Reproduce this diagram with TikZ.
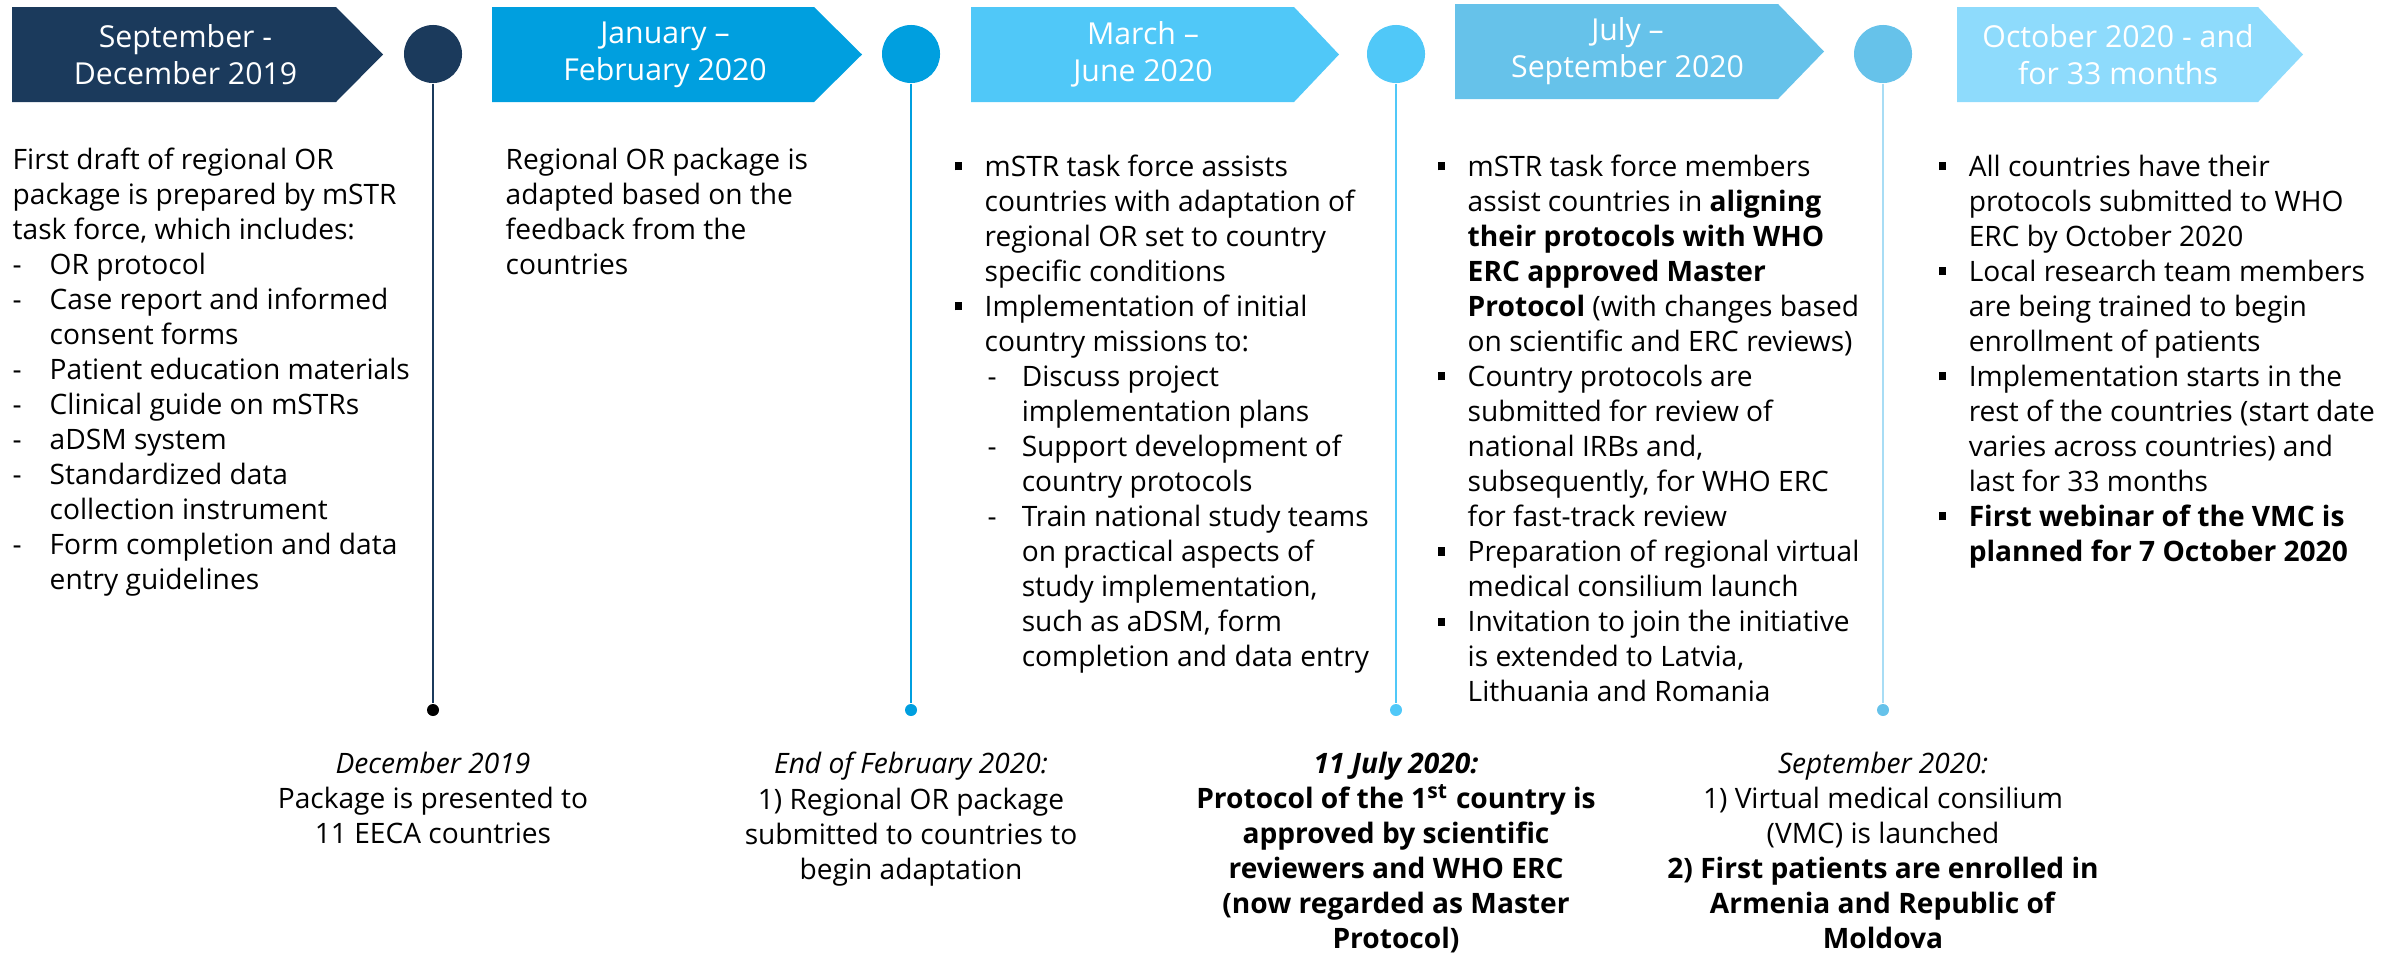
\documentclass[tikz,border=0pt]{standalone}
\usepackage{fontspec}
\setmainfont{Open Sans}
\usetikzlibrary{positioning}

\definecolor{navy}{HTML}{1B3A5C}
\definecolor{blueA}{HTML}{009FDF}
\definecolor{blueB}{HTML}{50C8F8}
\definecolor{blueC}{HTML}{66C2EA}
\definecolor{blueD}{HTML}{8EDBFC}
\definecolor{lineD}{HTML}{A8DDF5}

% list markers used in the text columns
\newcommand{\sq}{\makebox[0.3cm][l]{\rule[1.7pt]{2pt}{2.3pt}}}
\newcommand{\dsh}{\makebox[0.37cm][l]{-}}
\newcommand{\subdsh}{\hspace*{0.33cm}\makebox[0.34cm][l]{-}}
\newcommand{\ind}{\hspace*{0.3cm}}
\newcommand{\subind}{\hspace*{0.67cm}}

\begin{document}
\begin{tikzpicture}[
    x = 0.01cm, y = -0.01cm, % one unit per pixel, y downwards
    head/.style = {font=\fontsize{8.6}{10.5}\selectfont, text=white, align=center, inner sep=0pt},
    body/.style = {font=\fontsize{8}{9.96}\selectfont, align=left, anchor=north west, inner sep=0pt},
    note/.style = {font=\fontsize{8}{9.96}\selectfont, align=center, inner sep=0pt},
    milestone/.style = {circle, inner sep=0pt, minimum size=0.58cm},
    pin/.style = {circle, inner sep=0pt, minimum size=0.12cm},
    stem/.style = {line width=0.5pt}
    ]
    \useasboundingbox (0,0) rectangle (2389,954);

    % period banners
    \foreach \l/\s/\r/\t/\col/\txt/\n in {
        12/336/383/7/navy/{September -\\December 2019}/h1,
        492/814/862/7/blueA/{January --\\February 2020}/h2,
        971/1294/1339/7/blueB/{March --\\June 2020}/h3,
        1455/1778/1824/4/blueC/{July --\\September 2020}/h4,
        1957/2258/2303/7/blueD/{October 2020 - and\\for 33 months}/h5}
    {
        \fill[\col] (\l,\t) -- (\s,\t) -- (\r,\t+47.5) -- (\s,\t+95) -- (\l,\t+95) -- cycle;
        \node[head] (\n) at ({(\l+\r)/2-12},\t+47.5) {\txt};
    }

    % milestones and their pins
    \node[milestone, fill=navy] (c1) at (433,54) {};
    \node[milestone, fill=blueA] (c2) at (911,54) {};
    \node[milestone, fill=blueB] (c3) at (1396,54) {};
    \node[milestone, fill=blueC] (c4) at (1883,54) {};

    \node[pin, fill=black] (d1) at (433,710) {};
    \node[pin, fill=blueA] (d2) at (911,710) {};
    \node[pin, fill=blueB] (d3) at (1396,710) {};
    \node[pin, fill=blueC] (d4) at (1883,710) {};

    \draw[stem, navy] (c1) -- (d1);
    \draw[stem, blueA] (c2) -- (d2);
    \draw[stem, blueB] (c3) -- (d3);
    \draw[stem, lineD] (c4) -- (d4);

    % activities of each period
    \node[body] (t1) at (12,147) {First draft of regional OR\\
        package is prepared by mSTR\\
        task force, which includes:\\
        \dsh OR protocol\\
        \dsh Case report and informed\\
        \hspace*{0.37cm}consent forms\\
        \dsh Patient education materials\\
        \dsh Clinical guide on mSTRs\\
        \dsh aDSM system\\
        \dsh Standardized data\\
        \hspace*{0.37cm}collection instrument\\
        \dsh Form completion and data\\
        \hspace*{0.37cm}entry guidelines};

    \node[body] (t2) at (505,147) {Regional OR package is\\
        adapted based on the\\
        feedback from the\\
        countries};

    \node[body] (t3) at (954,154) {\sq mSTR task force assists\\
        \ind countries with adaptation of\\
        \ind regional OR set to country\\
        \ind specific conditions\\
        \sq Implementation of initial\\
        \ind country missions to:\\
        \subdsh Discuss project\\
        \subind implementation plans\\
        \subdsh Support development of\\
        \subind country protocols\\
        \subdsh Train national study teams\\
        \subind on practical aspects of\\
        \subind study implementation,\\
        \subind such as aDSM, form\\
        \subind completion and data entry};

    \node[body] (t4) at (1437,154) {\sq mSTR task force members\\
        \ind assist countries in \textbf{aligning}\\
        \ind \textbf{their protocols with WHO}\\
        \ind \textbf{ERC approved Master}\\
        \ind \textbf{Protocol} (with changes based\\
        \ind on scientific and ERC reviews)\\
        \sq Country protocols are\\
        \ind submitted for review of\\
        \ind national IRBs and,\\
        \ind subsequently, for WHO ERC\\
        \ind for fast-track review\\
        \sq Preparation of regional virtual\\
        \ind medical consilium launch\\
        \sq Invitation to join the initiative\\
        \ind is extended to Latvia,\\
        \ind Lithuania and Romania};

    \node[body] (t5) at (1938,154) {\sq All countries have their\\
        \ind protocols submitted to WHO\\
        \ind ERC by October 2020\\
        \sq Local research team members\\
        \ind are being trained to begin\\
        \ind enrollment of patients\\
        \sq Implementation starts in the\\
        \ind rest of the countries (start date\\
        \ind varies across countries) and\\
        \ind last for 33 months\\
        \sq \textbf{First webinar of the VMC is}\\
        \ind \textbf{planned for 7 October 2020}};

    % events under the pins
    \node[note, below=0.35cm of d1] (e1) {\textit{December 2019}\\
        Package is presented to\\
        11 EECA countries};
    \node[note, below=0.35cm of d2] (e2) {\textit{End of February 2020:}\\
        1) Regional OR package\\
        submitted to countries to\\
        begin adaptation};
    \node[note, below=0.35cm of d3, font=\fontsize{8}{9.96}\selectfont\bfseries] (e3) {\textit{11 July 2020:}\\
        Protocol of the 1\textsuperscript{st} country is\\
        approved by scientific\\
        reviewers and WHO ERC\\
        (now regarded as Master\\
        Protocol)};
    \node[note, below=0.35cm of d4] (e4) {\textit{September 2020:}\\
        1) Virtual medical consilium\\
        (VMC) is launched\\
        \textbf{2) First patients are enrolled in}\\
        \textbf{Armenia and Republic of}\\
        \textbf{Moldova}};
\end{tikzpicture}
\end{document}
